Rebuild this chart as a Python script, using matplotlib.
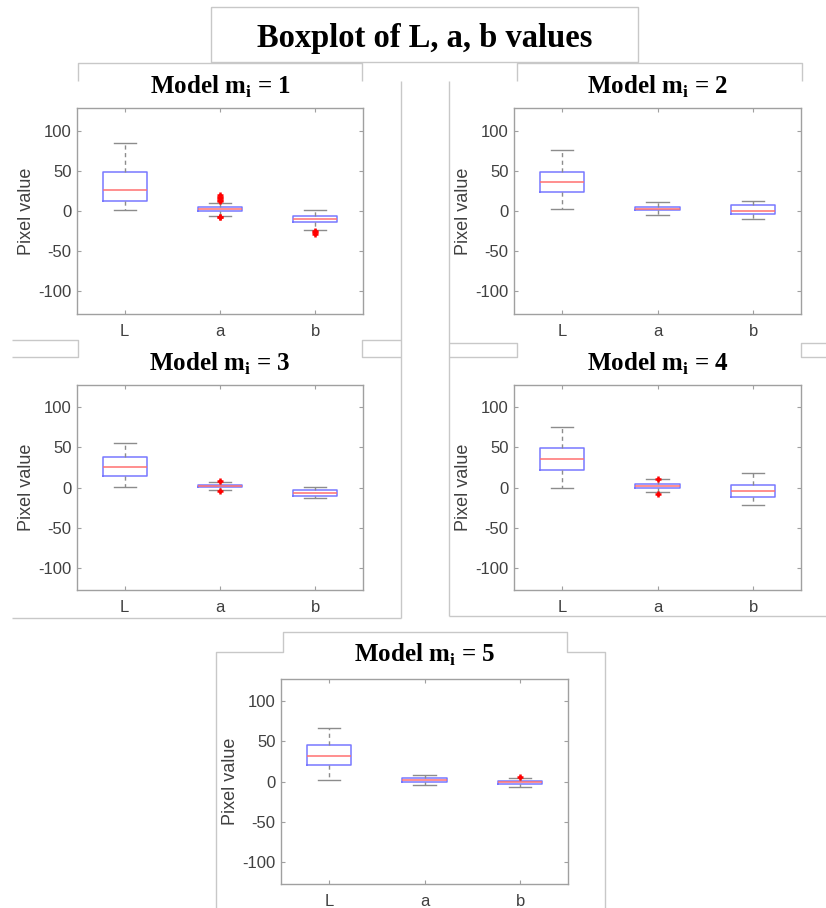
import numpy as np
import matplotlib
matplotlib.use("Agg")
import matplotlib.pyplot as plt

plt.rcParams["axes.unicode_minus"] = False

# values (Pixel value per channel, one entry per model)
models = [1, 2, 3, 4, 5]
channels = ["L", "a", "b"]

L_whislo = [1, 2, 1, 0, 2]
L_q1 = [13, 23, 14, 22, 20]
L_med = [25.5, 36, 26, 35, 32]
L_q3 = [48, 49, 38, 49, 46]
L_whishi = [84, 76, 55, 76, 67]
L_fliers = [[], [], [], [], []]

a_whislo = [-6, -4.5, -3.3, -6, -4.5]
a_q1 = [0, 1, 0.4, 0, 0]
a_med = [2, 3, 2, 2, 2]
a_q3 = [4.6, 5, 3.7, 4, 4]
a_whishi = [10.5, 11, 7, 10, 8.7]
a_fliers = [[12, 14, 16, 18, 19.5, -7, -8], [], [8, -4.2], [11, -8], []]

b_whislo = [-23.3, -10, -12.8, -21.5, -7]
b_q1 = [-13.3, -3.3, -10.3, -11.6, -3.3]
b_med = [-10, 0, -7.4, -4, -1.2]
b_q3 = [-6.6, 7.5, -3.3, 3.3, 0.4]
b_whishi = [1, 13, 0.4, 18, 4]
b_fliers = [[-25, -26.5, -28], [], [], [], [6]]

yticks = [-100, -50, 0, 50, 100]

W, H = 826, 908
# axes rectangles in pixels: left, top, right, bottom
panel_px = [(77, 108, 363, 314), (514, 108, 801, 314),
            (77, 385, 363, 590), (514, 385, 801, 590),
            (281, 679, 568, 884)]
title_base = [94, 94, 371, 371, 662]

fig = plt.figure(figsize=(W / 100, H / 100), dpi=100)

# overlay for the grey screenshot frames
ov = fig.add_axes([0, 0, 1, 1], zorder=-1)
ov.set_xlim(0, W)
ov.set_ylim(H, 0)
ov.axis("off")
fc = "#c8c8c8"
def frame(xs, ys):
    ov.plot(xs, ys, color=fc, lw=1, solid_capstyle="butt")

frame([211, 638, 638, 211, 211], [7, 7, 62, 62, 7])
frame([78, 78, 362, 362], [81, 63, 63, 81])
frame([517, 517, 802, 802], [81, 63, 63, 81])
frame([401, 401], [81, 618])
frame([12, 401], [618, 618])
frame([401, 362, 362, 401], [340, 340, 357, 357])
frame([12, 78, 78, 12], [340, 340, 357, 357])
frame([449, 449], [81, 616])
frame([449, 826], [616, 616])
frame([449, 517, 517, 449], [343, 343, 357, 357])
frame([826, 801, 801, 826], [343, 343, 357, 357])
frame([216, 216, 283, 283, 567, 567, 605, 605], [908, 652, 652, 632, 632, 652, 652, 908])

fig.text(424.5 / W, 1 - 47 / H, "Boxplot of L, a, b values", ha="center", va="baseline",
         fontsize=23.5, fontweight="bold", family="Liberation Serif")

tick_col = "#404040"
spine_col = "#a0a0a0"

for i, m in enumerate(models):
    l, t, r, b = panel_px[i]
    ax = fig.add_axes([l / W, 1 - b / H, (r - l) / W, (b - t) / H])
    stats = []
    for name, lo, q1, med, q3, hi, fl in [
        ("L", L_whislo, L_q1, L_med, L_q3, L_whishi, L_fliers),
        ("a", a_whislo, a_q1, a_med, a_q3, a_whishi, a_fliers),
        ("b", b_whislo, b_q1, b_med, b_q3, b_whishi, b_fliers),
    ]:
        stats.append(dict(label=name, whislo=lo[i], q1=q1[i], med=med[i], q3=q3[i],
                          whishi=hi[i], fliers=np.array(fl[i])))
    ax.bxp(stats, positions=[1, 2, 3], widths=0.46, capwidths=0.23,
           boxprops=dict(color="#7878ff", lw=1.1),
           medianprops=dict(color="#ff7070", lw=1.1),
           whiskerprops=dict(color="#8c8c8c", lw=1, linestyle=(0, (3, 2.5))),
           capprops=dict(color="#8c8c8c", lw=1),
           flierprops=dict(marker="+", markeredgecolor="red", markersize=4, mew=1.8))
    ax.set_xlim(0.5, 3.5)
    ax.set_ylim(-128, 128)
    ax.set_yticks(yticks)
    ax.set_xticks([1, 2, 3])
    ax.set_xticklabels(channels)
    for s in ax.spines.values():
        s.set_color(spine_col)
        s.set_linewidth(1)
    ax.tick_params(direction="in", length=3, color=spine_col, top=True, right=True,
                   labelsize=12, labelcolor=tick_col)
    ax.tick_params(axis="y", pad=4)
    ax.tick_params(axis="x", pad=7)
    for lab in ax.get_xticklabels() + ax.get_yticklabels():
        lab.set_family("Liberation Sans")
    ax.set_ylabel("Pixel value", fontsize=13, color=tick_col, family="Liberation Sans", labelpad=2)
    fig.text(((l + r) / 2) / W, 1 - title_base[i] / H,
             r"Model m$_\mathregular{i}$ = %d" % m, ha="center", va="baseline",
             fontsize=18, fontweight="bold", family="Liberation Serif")

fig.savefig("out.png", dpi=100)
